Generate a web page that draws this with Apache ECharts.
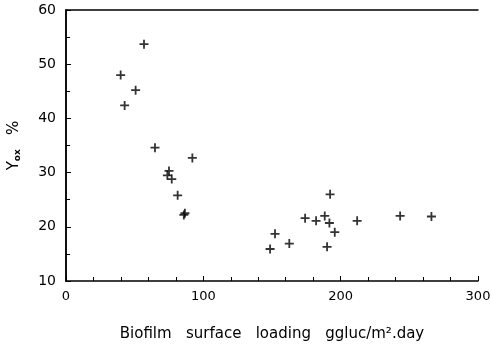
<!DOCTYPE html>
<html><head><meta charset="utf-8">
<script src="https://cdn.jsdelivr.net/npm/echarts@6/dist/echarts.min.js"></script>
<style>html,body{margin:0;padding:0;background:#fff}#c{width:491px;height:348px}</style>
</head><body><div id="c"></div>
<script>
const loading = [39.8, 42.7, 50.7, 56.8, 64.8, 92.0, 75.0, 73.8, 77.0, 81.3, 85.8, 86.6, 148.6, 152.2, 162.6, 174.1, 182.1, 188.4, 191.8, 192.3, 190.1, 195.7, 212.0, 243.3, 266.1];
const yieldPct = [48.0, 42.4, 45.2, 53.7, 34.6, 32.7, 30.3, 29.5, 28.8, 25.8, 22.2, 22.5, 15.9, 18.7, 16.9, 21.6, 21.1, 22.0, 20.7, 26.0, 16.3, 19.0, 21.1, 22.0, 21.9];
const xTicks = [0, 100, 200, 300];
const yTicks = [10, 20, 30, 40, 50, 60];

const chart = echarts.init(document.getElementById('c'), null, {renderer: 'canvas'});
const font = 'DejaVu Sans';
const xMin = xTicks[0], xMax = xTicks[xTicks.length - 1];
const yMin = yTicks[0], yMax = yTicks[yTicks.length - 1];
const frame = {
  axisLine: {show: true, lineStyle: {color: '#000', width: 1.5}},
  axisTick: {show: false}, axisLabel: {show: false}, splitLine: {show: false}
};
chart.setOption({
  animation: false,
  grid: {left: 66, right: 13, top: 10, bottom: 67, containLabel: false, outerBoundsMode: 'none'},
  xAxis: [{
    type: 'value', min: xMin, max: xMax, interval: 100, position: 'bottom',
    axisLine: {onZero: false, lineStyle: {color: '#000', width: 1.5}},
    axisTick: {inside: true, length: 5, lineStyle: {color: '#000', width: 1}},
    minorTick: {show: true, splitNumber: 5, length: 4, lineStyle: {color: '#000', width: 1}},
    splitLine: {show: false},
    axisLabel: {color: '#000', fontFamily: font, fontSize: 13, margin: 9},
    name: 'Biofilm   surface   loading   ggluc/m\u00b2.day',
    nameLocation: 'middle', nameGap: 46,
    nameTextStyle: {color: '#000', fontFamily: font, fontSize: 15}
  }, Object.assign({type: 'value', min: xMin, max: xMax, position: 'top'}, frame)],
  yAxis: [{
    type: 'value', min: yMin, max: yMax, interval: 10, position: 'left',
    axisLine: {onZero: false, lineStyle: {color: '#000', width: 1.5}},
    axisTick: {inside: true, length: 5, lineStyle: {color: '#000', width: 1}},
    minorTick: {show: true, splitNumber: 2, length: 4, lineStyle: {color: '#000', width: 1}},
    splitLine: {show: false},
    axisLabel: {color: '#000', fontFamily: font, fontSize: 14, margin: 10},
    name: '{a|Y}{b|ox}{a|   %}',
    nameLocation: 'middle', nameGap: 44, nameRotate: 90,
    nameTextStyle: {
      color: '#000', fontFamily: font,
      rich: {
        a: {fontFamily: font, fontSize: 15, color: '#000'},
        b: {fontFamily: font, fontSize: 9, color: '#000', fontWeight: 'bold', verticalAlign: 'bottom', padding: [7, 0, 0, 0]}
      }
    }
  }, Object.assign({type: 'value', min: yMin, max: yMax, position: 'right'}, frame)],
  series: [
    {
      type: 'scatter',
      data: loading.map((x, i) => [x, yieldPct[i]]),
      symbol: 'path://M4,0h2v4h4v2h-4v4h-2v-4h-4v-2h4z',
      symbolSize: 9,
      itemStyle: {color: '#000'}
    }
  ]
});
</script></body></html>
